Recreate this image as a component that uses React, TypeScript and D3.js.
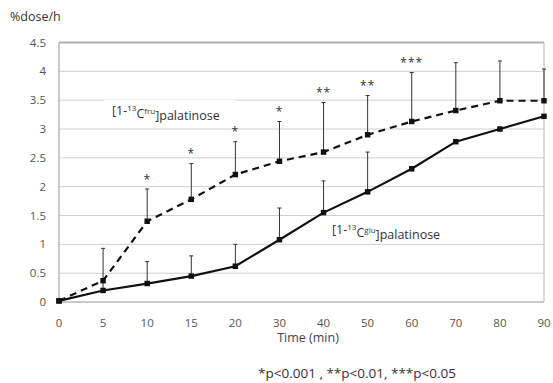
import * as d3 from 'd3'

const times = ['0', '5', '10', '15', '20', '30', '40', '50', '60', '70', '80', '90']
const fruMean = [0.02, 0.37, 1.4, 1.78, 2.21, 2.44, 2.6, 2.9, 3.13, 3.32, 3.49, 3.49]
const fruTop = [0.02, 0.93, 1.96, 2.4, 2.78, 3.13, 3.46, 3.58, 3.98, 4.15, 4.18, 4.04]
const gluMean = [0.02, 0.2, 0.32, 0.45, 0.62, 1.08, 1.55, 1.91, 2.31, 2.78, 3.0, 3.22]
const gluTop = [0.02, 0.38, 0.7, 0.8, 1.0, 1.63, 2.1, 2.6, 2.31, 2.78, 3.0, 3.22]
const stars = ['', '', '*', '*', '*', '*', '**', '**', '***', '', '', '']
const yTicks = [0, 0.5, 1, 1.5, 2, 2.5, 3, 3.5, 4, 4.5]

const W = 553
const H = 383
const left = 59
const right = 544
const top = 42.5
const bottom = 302

const font = 'Open Sans, Liberation Sans, sans-serif'

export default function App() {
    const x = d3.scalePoint<string>().domain(times).range([left, right])
    const y = d3.scaleLinear().domain([0, 4.5]).range([bottom, top])

    const line = d3
        .line<number>()
        .x((_, i) => x(times[i]) as number)
        .y((d) => y(d))

    const marker = d3.symbol().type(d3.symbolSquare).size(30)()

    const label = (sup: string, lx: number, ly: number) => (
        <text x={lx} y={ly} dy="0.35em" fontFamily={font} fontSize={12.5} fill="#333">
            [1-<tspan fontSize={8} dy="-0.5em">13</tspan>
            <tspan dy="0.5em">C</tspan>
            <tspan fontSize={8} dy="-0.5em">{sup}</tspan>
            <tspan dy="0.5em">]palatinose</tspan>
        </text>
    )

    return (
        <svg
            width={W}
            height={H}
            style={{ position: 'absolute', left: 0, top: 0, background: 'white' }}
        >
            {/* grid */}
            {yTicks.map((t) => (
                <line
                    key={t}
                    x1={left}
                    x2={right}
                    y1={y(t)}
                    y2={y(t)}
                    stroke={t === 4.5 ? '#b0b0b0' : '#cfcfcf'}
                    strokeWidth={t === 4.5 ? 2 : 1}
                />
            ))}
            <line x1={right} x2={right} y1={top} y2={bottom} stroke="#b8b8b8" />
            <line x1={left} x2={left} y1={top} y2={bottom} stroke="#999" />
            <line x1={left} x2={right} y1={bottom} y2={bottom} stroke="#aaa" />

            {/* y tick labels */}
            {yTicks.map((t) => (
                <text
                    key={t}
                    x={46}
                    y={y(t)}
                    dy="0.35em"
                    textAnchor="end"
                    fontFamily={font}
                    fontSize={11.5}
                    fill="#555"
                >
                    {t}
                </text>
            ))}
            {/* x tick labels */}
            {times.map((t) => (
                <text
                    key={t}
                    x={x(t)}
                    y={323}
                    dy="0.35em"
                    textAnchor="middle"
                    fontFamily={font}
                    fontSize={11.5}
                    fill="#555"
                >
                    {t}
                </text>
            ))}

            <text x={10} y={17} dy="0.35em" fontFamily={font} fontSize={12.5} fill="#333">
                %dose/h
            </text>
            <text
                x={308}
                y={338}
                dy="0.35em"
                textAnchor="middle"
                fontFamily={font}
                fontSize={12.5}
                fill="#444"
            >
                Time (min)
            </text>
            <text
                x={357}
                y={373}
                dy="0.35em"
                textAnchor="middle"
                fontFamily={font}
                fontSize={13.5}
                fill="#333"
            >
                *p&lt;0.001 , **p&lt;0.01, ***p&lt;0.05
            </text>

            {/* series labels */}
            <rect x={104} y={100} width={132} height={22} fill="white" />
            {label('fru', 112, 111)}
            <rect x={325} y={219} width={130} height={22} fill="white" />
            {label('glu', 332, 230)}

            {/* error bars */}
            {times.map((t, i) => (
                <g key={'e' + t} stroke="#333" strokeWidth={1}>
                    {gluTop[i] > gluMean[i] && (
                        <>
                            <line x1={x(t)} x2={x(t)} y1={y(gluMean[i])} y2={y(gluTop[i])} />
                            <line
                                x1={(x(t) as number) - 2}
                                x2={(x(t) as number) + 2}
                                y1={y(gluTop[i])}
                                y2={y(gluTop[i])}
                            />
                        </>
                    )}
                    {fruTop[i] > fruMean[i] && (
                        <>
                            <line x1={x(t)} x2={x(t)} y1={y(fruMean[i])} y2={y(fruTop[i])} />
                            <line
                                x1={(x(t) as number) - 2}
                                x2={(x(t) as number) + 2}
                                y1={y(fruTop[i])}
                                y2={y(fruTop[i])}
                            />
                        </>
                    )}
                </g>
            ))}

            {/* lines */}
            <path
                d={line(fruMean) ?? ''}
                fill="none"
                stroke="#111"
                strokeWidth={2.2}
                strokeDasharray="7,5"
            />
            <path d={line(gluMean) ?? ''} fill="none" stroke="#111" strokeWidth={2.2} />

            {times.map((t, i) => (
                <g key={'m' + t} fill="#111">
                    <path d={marker} transform={`translate(${x(t)},${y(fruMean[i])})`} />
                    <path d={marker} transform={`translate(${x(t)},${y(gluMean[i])})`} />
                </g>
            ))}

            {/* significance */}
            {times.map((t, i) =>
                stars[i] ? (
                    <text
                        key={'s' + t}
                        x={x(t)}
                        y={y(fruTop[i]) - 12}
                        dy="0.55em"
                        textAnchor="middle"
                        fontFamily={font}
                        fontSize={12}
                        fill="#333"
                        letterSpacing={1}
                    >
                        {stars[i]}
                    </text>
                ) : null
            )}
        </svg>
    )
}
